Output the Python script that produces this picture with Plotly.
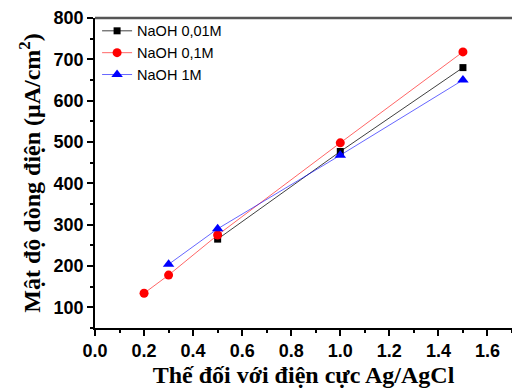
import plotly.graph_objects as go

x_001 = [0.5, 1.0, 1.5]
y_001 = [265, 477, 680]
x_01 = [0.2, 0.3, 0.5, 1.0, 1.5]
y_01 = [134, 178, 275, 498, 718]
x_1 = [0.3, 0.5, 1.0, 1.5]
y_1 = [204, 290, 468, 650]
names = ["NaOH 0,01M", "NaOH 0,1M", "NaOH 1M"]

fig = go.Figure()
fig.add_trace(go.Scatter(x=x_001, y=y_001, name=names[0], mode="lines+markers",
                         line=dict(color="rgba(0,0,0,0.75)", width=1),
                         marker=dict(symbol="square", size=7, color="black")))
fig.add_trace(go.Scatter(x=x_01, y=y_01, name=names[1], mode="lines+markers",
                         line=dict(color="rgba(255,0,0,0.6)", width=1),
                         marker=dict(symbol="circle", size=9, color="red")))
fig.add_trace(go.Scatter(x=x_1, y=y_1, name=names[2], mode="lines+markers",
                         line=dict(color="rgba(0,0,255,0.6)", width=1),
                         marker=dict(symbol="triangle-up", size=10, color="blue")))

tickfont = dict(family="Liberation Sans, Arial", size=18, color="black", weight="bold")
titlefont = dict(family="Liberation Serif, Times New Roman", size=24, color="black", weight="bold")

fig.update_layout(
    width=512, height=390,
    margin=dict(l=95, r=0, t=18, b=62),
    plot_bgcolor="white", paper_bgcolor="white",
    showlegend=True,
    legend=dict(x=0.005, y=1.01, xanchor="left", yanchor="top",
                font=dict(family="Liberation Sans, Arial", size=14.5, color="black"),
                bgcolor="rgba(0,0,0,0)", tracegroupgap=0, itemwidth=30),
    xaxis=dict(range=[0, 1.70], tickvals=[0, 0.2, 0.4, 0.6, 0.8, 1.0, 1.2, 1.4, 1.6],
               ticktext=["0.0", "0.2", "0.4", "0.6", "0.8", "1.0", "1.2", "1.4", "1.6"],
               ticks="outside", ticklen=6, tickwidth=1.5, tickcolor="black",
               minor=dict(dtick=0.1, ticks="outside", ticklen=3, tickcolor="black"),
               showline=True, linecolor="black", linewidth=1.5, mirror=False,
               showgrid=False, zeroline=False, tickfont=tickfont,
               title=dict(text="Thế đối với điện cực Ag/AgCl", font=titlefont, standoff=6)),
    yaxis=dict(range=[50, 800], tickvals=[100, 200, 300, 400, 500, 600, 700, 800],
               ticks="outside", ticklen=6, tickwidth=1.5, tickcolor="black",
               minor=dict(dtick=50, ticks="outside", ticklen=3, tickcolor="black"),
               showline=True, linecolor="black", linewidth=1.5,
               showgrid=False, zeroline=False, tickfont=tickfont,
               title=dict(text="Mật độ dòng điện (μA/cm<sup>2</sup>)", font=titlefont, standoff=6)),
)
fig.add_shape(type="line", xref="paper", yref="paper", x0=0, x1=1, y0=1, y1=1,
              line=dict(color="#555555", width=2.5))

fig.write_html("out.html")
